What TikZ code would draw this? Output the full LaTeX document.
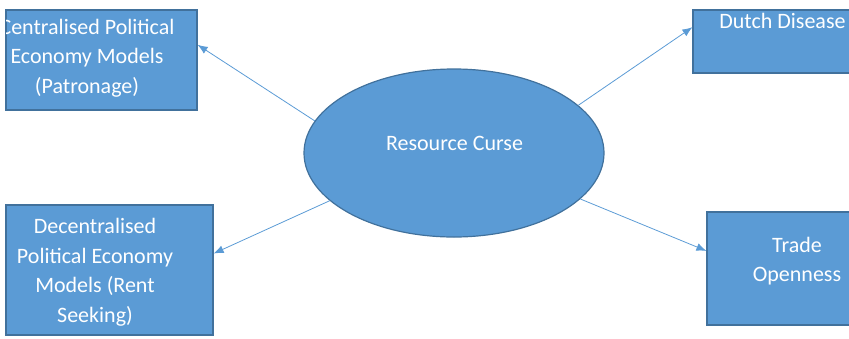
\documentclass[tikz,border=0pt]{standalone}
\usepackage{fontspec}
\setmainfont{Carlito}
\usetikzlibrary{shapes.geometric,arrows.meta}
\definecolor{boxfill}{HTML}{5B9BD5}
\definecolor{boxline}{HTML}{41719C}
\definecolor{arrowc}{HTML}{5B9BD5}
\begin{document}
\begin{tikzpicture}[x=1pt,y=-1pt,
  box/.style={draw=boxline, line width=1.2pt, fill=boxfill, rectangle, inner sep=0pt},
  lbl/.style={text=white, font=\fontsize{22}{29.5}\selectfont, align=center, inner sep=0pt},
  conn/.style={draw=arrowc, line width=0.8pt, -{Latex[length=10pt,width=8pt]}}]
\useasboundingbox (0,0) rectangle (849,338);
\clip (0,0) rectangle (849,338);
% boxes
\node[box, minimum width=191pt, minimum height=100pt] (tl) at (101.5,60) {};
\node[box, minimum width=179pt, minimum height=63pt] (dd) at (782.5,41.5) {};
\node[box, minimum width=207pt, minimum height=130pt] (bl) at (109.5,270) {};
\node[box, minimum width=180pt, minimum height=113pt] (to) at (797,268.5) {};
\node[ellipse, draw=boxline, line width=1.2pt, fill=boxfill, minimum width=300pt, minimum height=168pt, inner sep=0pt] (rc) at (454,153) {};
% texts
\begin{scope}
\clip (6,10) rectangle (197,110);
\node[lbl] (tlt) at (87,58) {Centralised Political\\Economy Models\\(Patronage)};
\end{scope}
\node[lbl] (ddt) at (782.5,21) {Dutch Disease};
\node[lbl] (blt) at (95,272) {Decentralised\\Political Economy\\Models (Rent\\Seeking)};
\node[lbl] (tot) at (797,261) {Trade\\Openness};
\node[lbl] (rct) at (454.5,143) {Resource Curse};
% connectors
\draw[conn] (rc.167) -- (tl.9.5);
\draw[conn] (rc.21.3) -- (dd.171.7);
\draw[conn] (rc.201.1) -- (bl.9.3);
\draw[conn] (rc.-20.4) -- (to.169.6);
\end{tikzpicture}
\end{document}
